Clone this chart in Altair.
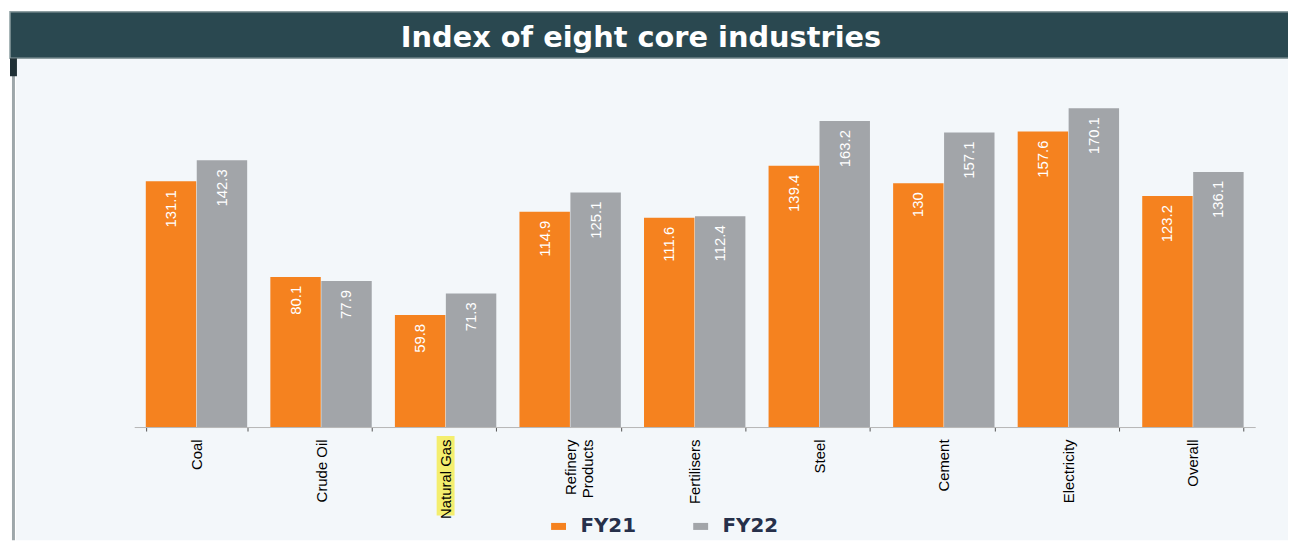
import altair as alt
import pandas as pd

categories = ["Coal", "Crude Oil", "Natural Gas", "Refinery Products", "Fertilisers",
              "Steel", "Cement", "Electricity", "Overall"]
fy21 = [131.1, 80.1, 59.8, 114.9, 111.6, 139.4, 130, 157.6, 123.2]
fy22 = [142.3, 77.9, 71.3, 125.1, 112.4, 163.2, 157.1, 170.1, 136.1]
series = ["FY21", "FY22"]
colors = ["#f5821f", "#a2a5a9"]
title_text = "Index of eight core industries"
highlighted = ["Natural Gas"]

rows = []
for c, a, b in zip(categories, fy21, fy22):
    rows.append({"Category": c, "Year": series[0], "Value": a, "Label": f"{a:g}"})
    rows.append({"Category": c, "Year": series[1], "Value": b, "Label": f"{b:g}"})
df = pd.DataFrame(rows)
one = pd.DataFrame({"k": [0]})
hl = pd.DataFrame({"Category": highlighted})

SANS = "Liberation Sans, Arial"

x_enc = alt.X("Category:N", sort=categories,
              scale=alt.Scale(paddingInner=0.186, paddingOuter=0.093),
              axis=alt.Axis(title=None, labelAngle=270, labelAlign="right",
                            labelBaseline="middle", labelPadding=8,
                            labelFont=SANS, labelFontSize=15, labelColor="#000000",
                            labelLineHeight=18, labelLimit=0,
                            labelExpr="datum.label == 'Refinery Products' ? ['Refinery', 'Products'] : datum.label",
                            tickBand="extent", tickSize=4, tickColor="#555555",
                            domainColor="#b5b5b5", zindex=1, grid=False))
xoff = alt.XOffset("Year:N", sort=series, scale=alt.Scale(paddingInner=0.01))
y_enc = alt.Y("Value:Q", scale=alt.Scale(domain=[0, 185], nice=False, zero=True), axis=None)

bg = alt.Chart(one).mark_rect(color="#f3f7fa").encode(
    x=alt.value(-119), x2=alt.value(1161), y=alt.value(-22), y2=alt.value(463))
header = alt.Chart(one).mark_rect(color="#2a4850", stroke="#8d9ea1", strokeWidth=1.5).encode(
    x=alt.value(-125), x2=alt.value(1162), y=alt.value(-69), y2=alt.value(-22))
title = alt.Chart(one).mark_text(text=title_text, font="DejaVu Sans", fontWeight="bold",
                                 fontSize=29, color="#ffffff", align="center",
                                 baseline="middle").encode(x=alt.value(510), y=alt.value(-42))
border = alt.Chart(one).mark_rect(color="#9ea7aa").encode(
    x=alt.value(-123), x2=alt.value(-120), y=alt.value(-22), y2=alt.value(463))
block = alt.Chart(one).mark_rect(color="#1f3036").encode(
    x=alt.value(-125), x2=alt.value(-118), y=alt.value(-22), y2=alt.value(-4))
highlight = alt.Chart(hl).mark_bar(color="#f4ee6e", width=18).encode(
    x=alt.X("Category:N", sort=categories), y=alt.value(358), y2=alt.value(438))

bars = alt.Chart(df).mark_bar().encode(
    x=x_enc, xOffset=xoff, y=y_enc,
    color=alt.Color("Year:N", sort=series,
                    scale=alt.Scale(domain=series, range=colors),
                    legend=alt.Legend(orient="none", legendX=417, legendY=439,
                                      direction="horizontal", title=None,
                                      symbolType="M-1,-0.47H1V0.47H-1Z", symbolSize=225,
                                      symbolStrokeWidth=0, labelFont="DejaVu Sans",
                                      labelFontSize=20, labelFontWeight="bold",
                                      labelColor="#26304a", columnPadding=55,
                                      labelOffset=12)))
labels = alt.Chart(df).mark_text(angle=270, align="right", baseline="middle", dx=-9,
                                 color="#ffffff", font=SANS, fontSize=15).encode(
    x=alt.X("Category:N", sort=categories), xOffset=xoff, y=y_enc, text="Label:N")

chart = alt.layer(bg, header, title, border, block, highlight, bars, labels).properties(
    width=1128, height=349,
    autosize=alt.AutoSizeParams(type="none"),
    padding={"left": 127, "top": 71, "right": 33, "bottom": 114},
    background="#ffffff",
).configure_view(stroke=None)

chart.save("out.html", embed_options={"renderer": "svg", "actions": False})
